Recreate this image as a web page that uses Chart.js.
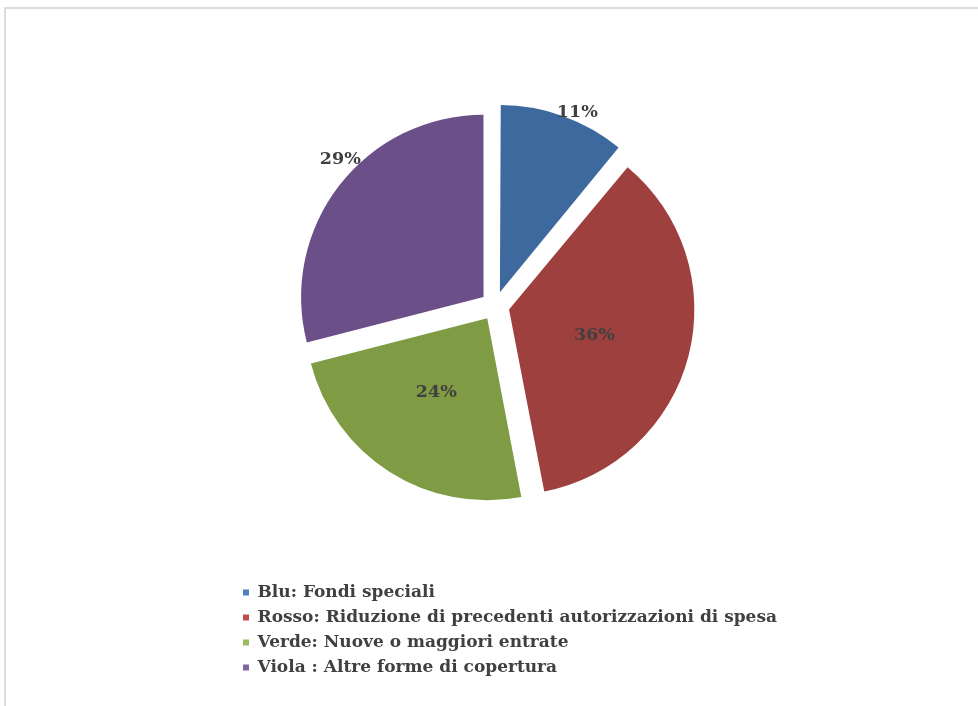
<!DOCTYPE html>
<html>
<head>
<meta charset="utf-8">
<script src="https://cdn.jsdelivr.net/npm/chart.js@4"></script>
<style>
  body { margin: 0; background: #fff; overflow: hidden; }
  #frame { position: absolute; left: 4px; top: 7px; width: 1000px; height: 720px;
           border-top: 2px solid #dcdcdc; border-left: 2px solid #dcdcdc; }
  #wrap { position: absolute; left: 0; top: 0; width: 978px; height: 706px; }
</style>
</head>
<body>
<div id="frame"></div>
<div id="wrap"><canvas id="torta" width="978" height="706"></canvas></div>
<script>
const categorie = [
    'Blu: Fondi speciali',
    'Rosso: Riduzione di precedenti autorizzazioni di spesa',
    'Verde: Nuove o maggiori entrate',
    'Viola : Altre forme di copertura'
];
const percentuali = [11, 36, 24, 29];
const etichette = ['11%', '36%', '24%', '29%'];

const coloriFette = ['#3e699e', '#9e413e', '#7f9c45', '#6a4f89'];
const coloriLegenda = ['#4f81bd', '#c0504d', '#9bbb59', '#8064a2'];

const carattere = '"DejaVu Serif", serif';

// percentage labels: radial factor of the radius and small angle shift (deg)
const posEtichette = {
    fattore: [1.075, 0.49, 0.495, 1.09],
    spostamento: [3.5, 2.5, 2, 6]
};

const etichettePlugin = {
    id: 'etichettePercentuali',
    afterDatasetsDraw(chart) {
        const ctx = chart.ctx;
        const meta = chart.getDatasetMeta(0);
        ctx.save();
        ctx.font = 'bold 17.5px ' + carattere;
        ctx.fillStyle = '#404040';
        ctx.textAlign = 'center';
        ctx.textBaseline = 'middle';
        meta.data.forEach((arc, i) => {
            const p = arc.getProps(['x', 'y', 'startAngle', 'endAngle', 'outerRadius']);
            const off = (arc.options.offset || 0) / 4;   // chart.js moves arcs by offset/4
            const mid = (p.startAngle + p.endAngle) / 2;
            const a = mid + posEtichette.spostamento[i] * Math.PI / 180;
            const cx = p.x + off * Math.cos(mid);
            const cy = p.y + off * Math.sin(mid);
            const r = p.outerRadius * posEtichette.fattore[i];
            ctx.fillText(etichette[i], cx + r * Math.cos(a), cy + r * Math.sin(a));
        });
        ctx.restore();
    }
};

const ctx = document.getElementById('torta');

new Chart(ctx, {
    type: 'pie',
    data: {
        labels: categorie,
        datasets: [{
            data: percentuali,
            backgroundColor: coloriFette,
            borderWidth: 0,
            offset: 58,
            radius: 182
        }]
    },
    options: {
        responsive: false,
        animation: false,
        layout: {
            padding: { top: 36, bottom: 20, left: 235, right: 180 }
        },
        plugins: {
            tooltip: { enabled: false },
            // empty title on the right only to balance the pie horizontally
            title: {
                display: true,
                position: 'right',
                text: '',
                font: { size: 10 },
                padding: { top: 0, bottom: 31 }
            },
            legend: {
                position: 'bottom',
                align: 'start',
                labels: {
                    boxWidth: 6,
                    boxHeight: 6,
                    padding: 8,
                    color: '#404040',
                    font: { family: carattere, size: 17, weight: 'bold' },
                    generateLabels(chart) {
                        return categorie.map((t, i) => ({
                            text: t,
                            fillStyle: coloriLegenda[i],
                            strokeStyle: coloriLegenda[i],
                            lineWidth: 0,
                            fontColor: '#404040',
                            index: i
                        }));
                    }
                }
            }
        }
    },
    plugins: [etichettePlugin]
});
</script>
</body>
</html>
